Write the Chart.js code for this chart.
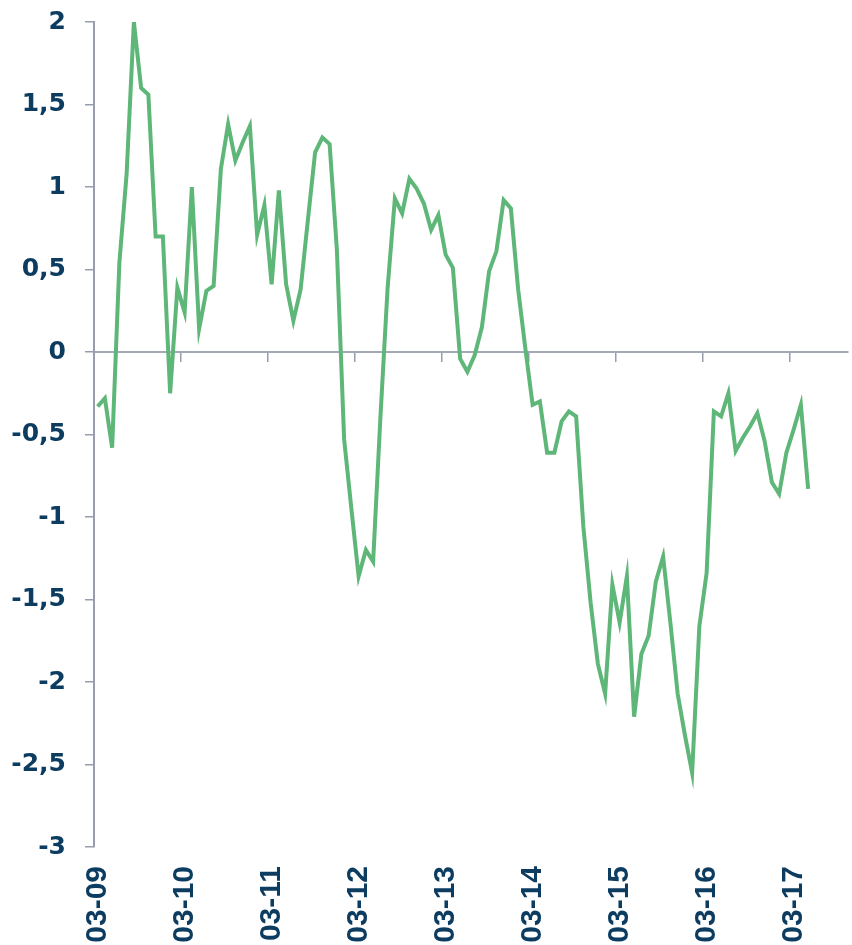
<!DOCTYPE html>
<html>
<head>
<meta charset="utf-8">
<script src="https://cdn.jsdelivr.net/npm/chart.js@4.4.1/dist/chart.umd.min.js"></script>
<style>
  html, body { margin: 0; padding: 0; background: #ffffff; }
  #wrap { width: 852px; height: 945px; position: relative; }
</style>
</head>
<body>
<div id="wrap"><canvas id="lineChart"></canvas></div>
<script>
// monthly categories, 03-09 .. 10-17 (axis runs a few months past the last value)
const START_YEAR = 2009, START_MONTH = 3, MONTH_COUNT = 104;
const months = [];
for (let i = 0; i < MONTH_COUNT; i++) {
    const m = (START_MONTH - 1 + i) % 12 + 1;
    const y = START_YEAR + Math.floor((START_MONTH - 1 + i) / 12);
    months.push(String(m).padStart(2, '0') + '-' + String(y % 100).padStart(2, '0'));
}

// tick labels shown on the x axis
const yearLabels = ['03-09','03-10','03-11','03-12','03-13','03-14','03-15','03-16','03-17'];

// y axis range / ticks
const Y_MIN = -3, Y_MAX = 2, Y_STEP = 0.5;

// series, 03-09 .. 05-17
const values = [
    -0.33, -0.28, -0.58,  0.54,  1.08,  2.00,  1.60,  1.56,  0.70,  0.70, -0.25,  0.39,
     0.24,  1.00,  0.14,  0.37,  0.40,  1.11,  1.38,  1.16,  1.27,  1.37,  0.71,  0.89,
     0.41,  0.98,  0.41,  0.19,  0.38,  0.80,  1.21,  1.30,  1.26,  0.62, -0.53, -0.95,
    -1.36, -1.20, -1.27, -0.40,  0.39,  0.93,  0.84,  1.05,  0.99,  0.90,  0.74,  0.83,
     0.59,  0.51, -0.04, -0.12, -0.02,  0.15,  0.49,  0.61,  0.92,  0.87,  0.38,  0.02,
    -0.32, -0.30, -0.61, -0.61, -0.42, -0.36, -0.39, -1.06, -1.52, -1.89, -2.07, -1.41,
    -1.64, -1.36, -2.21, -1.83, -1.72, -1.39, -1.24, -1.64, -2.07, -2.32, -2.55, -1.66,
    -1.34, -0.36, -0.39, -0.25, -0.60, -0.52, -0.45, -0.37, -0.54, -0.79, -0.86, -0.61,
    -0.47, -0.32, -0.83
];

const NAVY = '#0d3c61';
const AXIS = '#979dad';
const GREEN = '#5eb678';

function tickColorAtMarch(c) {
    if (c.index === undefined) return 'rgba(0,0,0,0)';
    return yearLabels.indexOf(months[c.index]) !== -1 ? AXIS : 'rgba(0,0,0,0)';
}

(function () {
    const el = document.getElementById('lineChart');
    new Chart(el.getContext('2d'), {
        type: 'line',
        data: {
            labels: months,
            datasets: [{
                data: values,
                borderColor: GREEN,
                borderWidth: 4,
                pointRadius: 0,
                tension: 0,
                fill: false,
                xAxisID: 'x',
                yAxisID: 'y'
            }]
        },
        options: {
            responsive: true,
            maintainAspectRatio: false,
            animation: false,
            layout: { padding: { top: 22, right: 4, left: 0, bottom: 0 } },
            plugins: { legend: { display: false }, tooltip: { enabled: false } },
            scales: {
                // axis line crossing at zero, tick marks only
                x: {
                    type: 'category',
                    position: { y: 0 },
                    offset: true,
                    grid: { offset: true, drawOnChartArea: false, drawTicks: true, tickLength: 9, lineWidth: 1.5, color: tickColorAtMarch },
                    border: { display: true, color: '#a3a9b6', width: 2 },
                    ticks: { display: false, autoSkip: false },
                    afterFit: function (s) { s.paddingLeft = 0; s.paddingRight = 0; }
                },
                // labels at the bottom
                x2: {
                    type: 'category',
                    position: 'bottom',
                    offset: true,
                    grid: { display: false, drawTicks: false },
                    border: { display: false },
                    ticks: {
                        autoSkip: false,
                        minRotation: 90,
                        maxRotation: 90,
                        padding: 19,
                        color: NAVY,
                        font: { family: "'Liberation Sans', Arial, sans-serif", size: 30, weight: 'bold' },
                        callback: function (v, i) { return yearLabels.indexOf(months[i]) !== -1 ? months[i] : ''; }
                    },
                    afterFit: function (s) { s.height = 98; s.paddingLeft = 0; s.paddingRight = 0; }
                },
                y: {
                    min: Y_MIN,
                    max: Y_MAX,
                    grid: { drawOnChartArea: false, drawTicks: true, tickLength: 9, lineWidth: 1.5, color: AXIS },
                    border: { display: true, color: AXIS, width: 2 },
                    ticks: {
                        stepSize: Y_STEP,
                        padding: 19,
                        color: NAVY,
                        font: { family: "'DejaVu Sans', sans-serif", size: 25, weight: 'bold' },
                        callback: function (v) { return String(v).replace('.', ','); }
                    },
                    afterFit: function (s) { s.width = 94; s.paddingTop = 0; s.paddingBottom = 0; }
                }
            }
        }
    });
})();
</script>
</body>
</html>
